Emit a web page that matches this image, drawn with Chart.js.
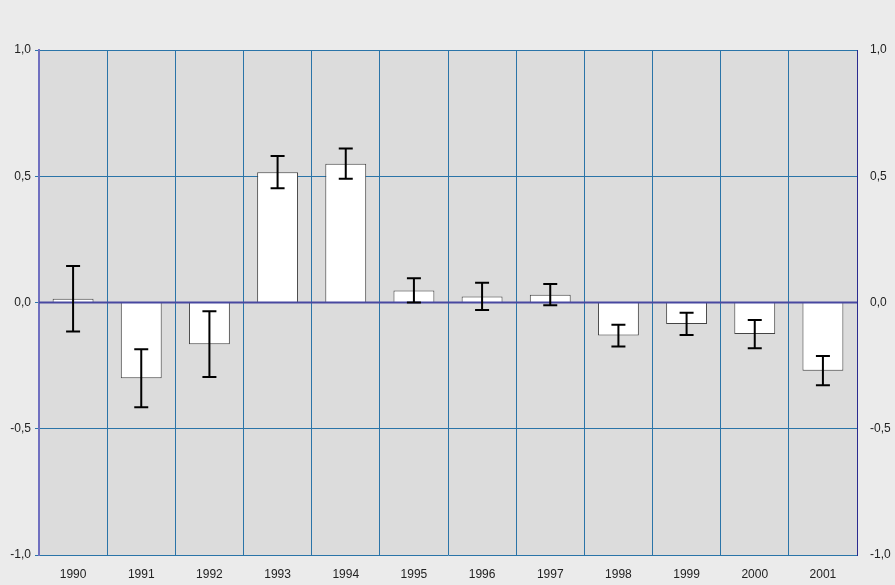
<!DOCTYPE html>
<html lang="en">
<head>
    <meta charset="UTF-8">
    <title>Yearly deviation</title>
    <style>
        * { margin: 0; padding: 0; }
        body { background: #ebebeb; }
        #chart { display: block; }
    </style>
</head>
<body>
    <canvas id="chart" width="895" height="585"></canvas>

    <script src="https://cdn.jsdelivr.net/npm/chart.js"></script>
    <script>
        // data
        const years = ['1990', '1991', '1992', '1993', '1994', '1995', '1996', '1997', '1998', '1999', '2000', '2001'];
        const values = [0.015, -0.30, -0.165, 0.516, 0.55, 0.048, 0.024, 0.031, -0.131, -0.085, -0.125, -0.27];
        const errors = [0.13, 0.115, 0.13, 0.064, 0.06, 0.048, 0.054, 0.042, 0.043, 0.044, 0.056, 0.058];
        const yTicks = [-1, -0.5, 0, 0.5, 1];

        const gridBlue = '#2a74a8';

        function fmt(v) {
            return v.toFixed(1).replace('.', ',');
        }

        // background + plot area fill
        const bgPlugin = {
            id: 'bg',
            beforeDraw(chart) {
                const c = chart.ctx, a = chart.chartArea;
                c.save();
                c.fillStyle = '#ebebeb';
                c.fillRect(0, 0, chart.width, chart.height);
                c.fillStyle = '#dcdcdc';
                c.fillRect(a.left, a.top, a.right - a.left, a.bottom - a.top);
                c.restore();
            }
        };

        // zero line over bars, then error bars
        const errPlugin = {
            id: 'errs',
            afterDatasetsDraw(chart) {
                const c = chart.ctx, a = chart.chartArea;
                const xs = chart.scales.x, ys = chart.scales.y;
                c.save();
                const y0 = ys.getPixelForValue(0);
                c.strokeStyle = '#4848a0';
                c.lineWidth = 2;
                c.beginPath();
                c.moveTo(a.left, y0);
                c.lineTo(a.right, y0);
                c.stroke();

                c.strokeStyle = '#000';
                c.lineWidth = 2;
                values.forEach((v, i) => {
                    const x = xs.getPixelForValue(i);
                    const yt = ys.getPixelForValue(v + errors[i]);
                    const yb = ys.getPixelForValue(v - errors[i]);
                    c.beginPath();
                    c.moveTo(x, yt); c.lineTo(x, yb);
                    c.moveTo(x - 7, yt); c.lineTo(x + 7, yt);
                    c.moveTo(x - 7, yb); c.lineTo(x + 7, yb);
                    c.stroke();
                });
                c.restore();
            }
        };

        const tickFont = { family: 'Arial, "Liberation Sans", sans-serif', size: 12 };

        new Chart(document.getElementById('chart'), {
            type: 'bar',
            data: {
                labels: years,
                datasets: [{
                    data: values,
                    backgroundColor: '#ffffff',
                    borderColor: '#444444',
                    borderWidth: 1,
                    barPercentage: 0.6,
                    categoryPercentage: 1
                }]
            },
            options: {
                responsive: false,
                animation: false,
                devicePixelRatio: 1,
                layout: { padding: { top: 50, left: 0, right: 0, bottom: 0 } },
                plugins: {
                    legend: { display: false },
                    tooltip: { enabled: false }
                },
                scales: {
                    x: {
                        grid: { offset: true, color: gridBlue, lineWidth: 1, drawTicks: false },
                        border: { display: false },
                        ticks: { color: '#222', font: tickFont, padding: 12, maxRotation: 0 },
                        afterFit(s) { s.height = 30; }
                    },
                    y: {
                        position: 'left',
                        min: -1, max: 1,
                        afterBuildTicks(s) { s.ticks = yTicks.map(v => ({ value: v })); },
                        grid: {
                            color: gridBlue,
                            lineWidth: 1,
                            tickLength: 4
                        },
                        border: { color: '#7070c0', width: 2 },
                        ticks: { color: '#222', font: tickFont, padding: 4, callback: v => fmt(v) },
                        afterFit(s) { s.width = 39; }
                    },
                    y2: {
                        position: 'right',
                        min: -1, max: 1,
                        afterBuildTicks(s) { s.ticks = yTicks.map(v => ({ value: v })); },
                        grid: { display: false },
                        border: { color: '#2a2a90', width: 1 },
                        ticks: { color: '#222', font: tickFont, padding: 5, callback: v => fmt(v) },
                        afterFit(s) { s.width = 38; }
                    }
                }
            },
            plugins: [bgPlugin, errPlugin]
        });
    </script>
</body>
</html>
